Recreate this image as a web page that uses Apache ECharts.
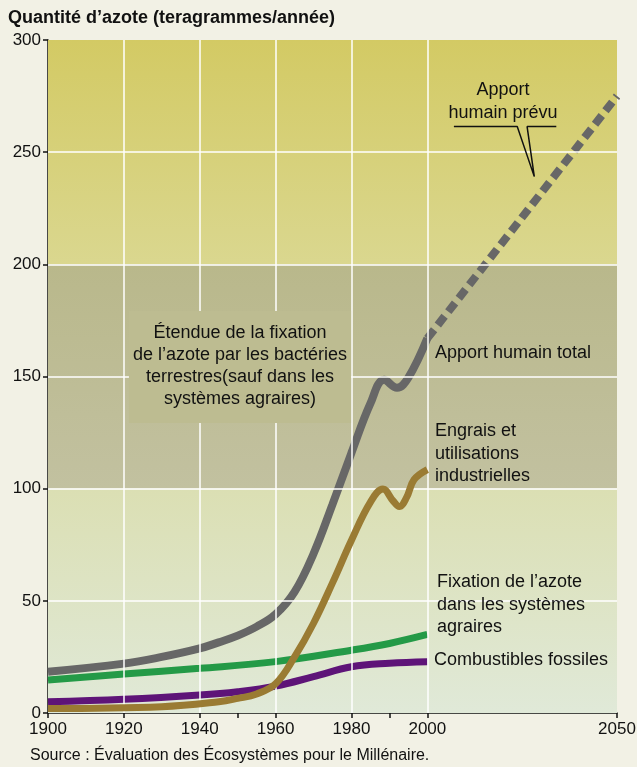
<!DOCTYPE html>
<html>
<head>
<meta charset="utf-8">
<script src="https://cdn.jsdelivr.net/npm/echarts@6/dist/echarts.min.js"></script>
<style>
  html, body { margin: 0; padding: 0; background: #f2f1e5; }
  #chart { width: 637px; height: 767px; }
</style>
</head>
<body>
<div id="chart"></div>
<script>
// values: [year, teragrammes/year]
const totalHumain = [[1900, 18.4], [1920, 22], [1930, 25], [1940, 28.8], [1945, 31.5], [1950, 34.5], [1955, 38.5],
  [1960, 44], [1965, 54], [1970, 71], [1975, 93], [1980, 116], [1985, 138], [1988.6, 148.5], [1992, 145],
  [1995, 149.5], [2000, 167]]
const prevu = [[2000, 167], [2050, 275]]
const engrais = [[1900, 2], [1930, 2.8], [1945, 5], [1950, 6.5], [1955, 8.5], [1960, 13], [1965, 25], [1970, 40],
  [1975, 58], [1980, 77], [1985, 94], [1988.3, 99.8], [1991, 94.5], [1992.6, 92], [1994.5, 96], [1996.5, 104],
  [2000, 108.5]]
const fixationAgraire = [[1900, 14.7], [1920, 17.4], [1940, 19.9], [1960, 22.9], [1980, 28], [1990, 31], [2000, 35]]
const combustibles = [[1900, 5], [1920, 6.1], [1940, 8], [1950, 9.5], [1960, 12], [1970, 16.2], [1980, 20.6],
  [1990, 22.2], [2000, 22.9]]
// callout under "Apport humain prévu"
const bulle = [[2007, 261.4], [2023.7, 261.4], [2028.2, 239.1], [2026.3, 261.4], [2034, 261.4]]

const xLabels = [1900, 1920, 1940, 1960, 1980, 2000, 2050]
const xTicks = [1900, 1920, 1940, 1950, 1960, 1980, 1990, 2000, 2050]
const xGrid = [1920, 1940, 1960, 1980, 2000]
const yGrid = [50, 100, 150, 200, 250]

const font = '"Liberation Sans", Arial, sans-serif'
const grad = (a, b) => new echarts.graphic.LinearGradient(0, 0, 0, 1, [
  { offset: 0, color: a }, { offset: 1, color: b }
])

const chart = echarts.init(document.getElementById('chart'))
const lineSerie = (data, color, width, z) => ({
  type: 'line',
  data: data,
  smooth: 0.4,
  symbol: 'none',
  z: z,
  lineStyle: { color: color, width: width, cap: 'butt' }
})

chart.setOption({
  animation: false,
  backgroundColor: '#f2f1e5',
  textStyle: { fontFamily: font },
  grid: { left: 48, right: 20, top: 40, bottom: 54, outerBoundsMode: 'none', containLabel: false },
  xAxis: {
    type: 'value',
    min: 1900,
    max: 2050,
    axisLine: { lineStyle: { color: '#111', width: 1.5 } },
    axisTick: { show: true, length: 5, customValues: xTicks, lineStyle: { color: '#111', width: 1.5 } },
    axisLabel: { customValues: xLabels, formatter: v => String(v), color: '#111', fontSize: 17, margin: 8, fontFamily: font },
    splitLine: { show: false }
  },
  yAxis: {
    type: 'value',
    min: 0,
    max: 300,
    interval: 50,
    axisLine: { show: true, lineStyle: { color: '#111', width: 1.5 } },
    axisTick: { show: true, length: 5, lineStyle: { color: '#111', width: 1.5 } },
    axisLabel: { color: '#111', fontSize: 17, margin: 7, fontFamily: font },
    splitLine: { show: false }
  },
  series: [
    {
      type: 'line',
      data: [],
      z: 1,
      markArea: {
        silent: true,
        data: [
          [{ yAxis: 200, itemStyle: { color: grad('#d3ca64', '#dad78f') } }, { yAxis: 300 }],
          [{ yAxis: 100, itemStyle: { color: grad('#b9b88b', '#c2c1a0') } }, { yAxis: 200 }],
          [{ yAxis: 0, itemStyle: { color: grad('#dbdfb3', '#e0e9d8') } }, { yAxis: 100 }]
        ]
      }
    },
    {
      type: 'line',
      data: [],
      z: 2,
      markLine: {
        silent: true,
        symbol: 'none',
        label: { show: false },
        lineStyle: { color: '#ffffff', width: 1.5, type: 'solid' },
        data: yGrid.map(v => ({ yAxis: v })).concat(xGrid.map(v => ({ xAxis: v })))
      }
    },
    lineSerie(fixationAgraire, '#249a47', 7, 3),
    lineSerie(combustibles, '#5e1478', 7, 3),
    lineSerie(totalHumain, '#676767', 8, 4),
    lineSerie(engrais, '#9a7b33', 7, 5),
    {
      type: 'line',
      data: prevu,
      symbol: 'none',
      z: 4,
      lineStyle: { color: '#676767', width: 8, type: [11, 6], cap: 'butt' }
    },
    {
      type: 'line',
      data: bulle,
      symbol: 'none',
      z: 6,
      lineStyle: { color: '#111', width: 1.5 }
    }
  ],
  graphic: [
    { type: 'text', z: 100, left: 8, top: 9,
      style: { text: 'Quantité d\u2019azote (teragrammes/année)', font: 'bold 18px ' + font, fill: '#111' } },
    { type: 'text', z: 100, x: 30, y: 748,
      style: { text: 'Source : Évaluation des Écosystèmes pour le Millénaire.', font: '16px ' + font, fill: '#111' } },
    { type: 'text', z: 100, x: 240, y: 311,
      style: {
        text: 'Étendue de la fixation\nde l\u2019azote par les bactéries\nterrestres(sauf dans les\nsystèmes agraires)',
        font: '18px ' + font, fill: '#111', align: 'center', verticalAlign: 'top', lineHeight: 22,
        backgroundColor: '#bdbc91', padding: [11, 4, 13, 4]
      } },
    { type: 'text', z: 100, x: 503, y: 79,
      style: { text: 'Apport\nhumain prévu', font: '18px ' + font, fill: '#111', align: 'center', verticalAlign: 'top', lineHeight: 23 } },
    { type: 'text', z: 100, x: 435, y: 342,
      style: { text: 'Apport humain total', font: '18px ' + font, fill: '#111', verticalAlign: 'top', lineHeight: 22 } },
    { type: 'text', z: 100, x: 435, y: 420,
      style: { text: 'Engrais et\nutilisations\nindustrielles', font: '18px ' + font, fill: '#111', verticalAlign: 'top', lineHeight: 22.5 } },
    { type: 'text', z: 100, x: 437, y: 571,
      style: { text: 'Fixation de l\u2019azote\ndans les systèmes\nagraires', font: '18px ' + font, fill: '#111', verticalAlign: 'top', lineHeight: 22.5 } },
    { type: 'text', z: 100, x: 434, y: 649,
      style: { text: 'Combustibles fossiles', font: '18px ' + font, fill: '#111', verticalAlign: 'top', lineHeight: 22 } }
  ]
})
</script>
</body>
</html>
